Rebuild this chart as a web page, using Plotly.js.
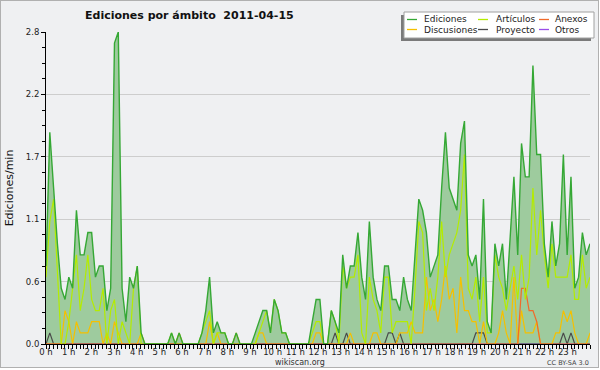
<!DOCTYPE html>
<html>
<head>
<meta charset="utf-8">
<script src="https://cdn.plot.ly/plotly-3.0.1.min.js"></script>
<style>
  html, body { margin: 0; padding: 0; background: #ffffff; }
  #wrap { position: relative; width: 600px; height: 370px; }
  #frame { position: absolute; left: 0; top: 0; width: 599px; height: 368px; box-sizing: border-box;
           border: 1px solid #b0b0b0; background: #eff0f2; }
  #chart { position: absolute; left: 0; top: 0; width: 600px; height: 370px; }
</style>
</head>
<body>
<div id="wrap"><div id="frame"></div><div id="chart"></div></div>
<script>
// ---- data (edits per minute, 10-minute bins, 2011-04-15) ----
const edits = [
  0.7,1.9,1.4,0.9,0.5,0.4,0.6,0.5,1.2,0.8,
  0.8,1.0,1.0,0.6,0.7,0.7,0.3,0.5,2.7,2.8,
  0.5,0.2,0.6,0.5,0.7,0.1,0,0,0,0,
  0,0,0,0.1,0,0.1,0,0,0,0,
  0,0.1,0.3,0.6,0.1,0.2,0.1,0.1,0,0,
  0.1,0,0,0,0,0.1,0.2,0.3,0.3,0.1,
  0.4,0.3,0.1,0.1,0,0,0,0,0,0,
  0.2,0.4,0.4,0,0,0.3,0.2,0.1,0.8,0.5,
  0.7,0.7,1.0,0.6,0.4,1.1,0.6,0.4,0.3,0.7,
  0.7,0.4,0.4,0.3,0.6,0.4,0.3,0.8,1.3,1.2,
  1.0,0.6,0.7,0.8,1.4,1.9,1.4,1.3,1.2,1.8,
  2.0,0.8,0.7,0.8,0.4,1.3,0.2,0.1,0.9,0.7,
  0.9,0.4,0.9,1.5,0.8,1.8,1.5,1.5,2.5,1.7,
  1.7,0.9,0.6,1.1,0.7,0.9,1.7,0.8,1.5,0.5,
  0.6,1.0,0.8,0.9
];
const articulos = [
  0.6,1.1,1.3,0.7,0,0,0.2,0.5,0.8,0.3,
  0.5,0.8,0.4,0.3,0.3,0.5,0,0.3,0.4,0,
  0.2,0.1,0,0.5,0.7,0,0,0,0,0,
  0,0,0,0.1,0,0,0,0,0,0,
  0,0.1,0.2,0.3,0,0.1,0.1,0.1,0,0,
  0,0,0,0,0,0,0.1,0.2,0.3,0.1,
  0.4,0.3,0.1,0.1,0,0,0,0,0,0,
  0.1,0.2,0.2,0,0,0.3,0.2,0,0.7,0.5,
  0.6,0.6,0.8,0.1,0,0.6,0.4,0.3,0.1,0.6,
  0.6,0.1,0.2,0.2,0.2,0.2,0,0.5,1.1,1.0,
  0.3,0.5,0.3,0.6,1.1,0.6,0.8,0.9,1.0,1.2,
  1.7,0.5,0.4,0.6,0.2,0.6,0.1,0.1,0.8,0.6,
  0.5,0.3,0.5,0.7,0.4,0.8,0.4,0.6,1.4,0.8,
  1.2,0.8,0.5,0.9,0.6,0.6,0.6,0.6,0.8,0.4,
  0.4,0.8,0.5,0.6
];
const discusiones = [
  0,0,0,0,0,0.3,0.2,0,0.2,0.1,
  0.1,0.1,0.2,0.2,0.2,0,0.1,0,0.2,0.1,
  0,0,0,0,0,0.1,0,0,0,0,
  0,0,0,0,0,0.1,0,0,0,0,
  0,0,0,0.2,0,0.1,0,0,0,0,
  0.1,0,0,0,0,0,0.1,0.1,0,0,
  0,0,0,0,0,0,0,0,0,0,
  0,0.1,0.1,0,0,0,0,0,0,0,
  0.1,0,0,0,0,0,0.1,0.1,0,0,
  0,0,0,0.1,0.1,0.1,0.2,0.1,0.1,0.1,
  0.6,0.3,0.4,0.2,0.4,0.7,0.4,0.5,0.1,0.6,
  0.3,0.3,0.2,0.2,0,0.2,0,0,0,0.1,
  0.3,0.1,0,0.6,0,0.3,0.1,0.1,0.1,0.2,
  0,0,0,0,0.1,0.1,0.3,0.2,0.3,0.1,
  0,0,0,0.1
];
const anexos = [
  0,0,0,0,0,0,0,0,0,0, 0,0,0,0,0,0,0,0,0,0,
  0,0,0,0,0,0,0,0,0,0, 0,0,0,0,0,0,0,0,0,0,
  0,0,0,0,0,0,0,0,0,0, 0,0,0,0,0,0,0,0,0,0,
  0,0,0,0,0,0,0,0,0,0, 0,0,0,0,0,0,0,0,0,0,
  0,0,0,0,0,0,0,0,0,0, 0,0,0,0,0,0,0,0,0,0,
  0,0,0,0,0,0,0,0,0,0, 0,0,0,0,0,0,0,0,0,0,
  0,0,0,0,0,0.5,0.5,0.3,0.3,0.2, 0,0,0,0,0,0,0,0,0,0,
  0,0,0,0
];
const proyecto = [
  0,0.1,0,0,0,0,0,0,0,0, 0,0,0,0,0,0,0,0,0,0,
  0,0,0,0,0,0,0,0,0,0, 0,0,0,0,0,0,0,0,0,0,
  0,0,0,0,0,0,0,0,0,0, 0,0,0,0,0,0,0,0,0,0,
  0,0,0,0,0,0,0,0,0,0, 0,0,0,0,0,0,0.1,0,0,0.1,
  0,0,0,0,0,0,0,0,0,0, 0.1,0.1,0,0.1,0,0,0,0,0,0,
  0,0,0,0,0,0,0,0,0,0, 0,0,0,0.1,0.1,0.1,0,0,0,0,
  0,0,0,0,0,0,0,0,0,0, 0,0,0,0,0,0,0.1,0,0.1,0,
  0,0,0,0
];
const otros = [
  0,0,0,0,0,0,0,0,0,0, 0,0,0,0,0,0,0,0,0,0,
  0,0,0,0,0,0,0,0,0,0, 0,0,0,0,0,0,0,0,0,0,
  0,0,0,0,0,0,0,0,0,0, 0,0,0,0,0,0,0,0,0,0,
  0,0,0,0,0,0,0,0,0,0, 0,0,0,0,0,0,0,0,0,0,
  0,0,0,0,0,0,0,0,0,0, 0,0,0,0,0,0,0,0,0,0,
  0,0,0,0,0,0,0,0,0,0, 0,0,0,0,0,0,0,0,0,0,
  0,0,0,0,0,0,0,0,0,0, 0,0,0,0,0,0,0,0,0,0,
  0,0,0,0
];
const hourTicks = [0,1,2,3,4,5,6,7,8,9,10,11,12,13,14,15,16,17,18,19,20,21,22,23];
const hourLabels = ["0 h","1 h","2 h","3 h","4 h","5 h","6 h","7 h","8 h","9 h","10 h","11 h",
                    "12 h","13 h","14 h","15 h","16 h","17 h","18 h","19 h","20 h","21 h","22 h","23 h"];
const yTicks = [0, 0.56, 1.12, 1.68, 2.24, 2.8];
const yTickLabels = ["0.0","0.6","1.1","1.7","2.2","2.8"];
const titleText = "Ediciones por ámbito\u00a0\u00a02011-04-15";

// series definitions (name, values, colour), in legend order (row-major, 3 columns)
const series = [
  {name: "Ediciones",   y: edits,       color: "#35a835"},
  {name: "Artículos",   y: articulos,   color: "#b4ec00"},
  {name: "Anexos",      y: anexos,      color: "#f06a2a"},
  {name: "Discusiones", y: discusiones, color: "#f5c000"},
  {name: "Proyecto",    y: proyecto,    color: "#4a4a4a"},
  {name: "Otros",       y: otros,       color: "#9a4ee8"}
];

// x position of each bin across the day
const binHour = edits.map((_, i) => i * 24 / (edits.length - 1));

const FONT = "DejaVu Sans, Verdana, sans-serif";
const M = {l: 46, r: 10, t: 32, b: 26};
const W = 600, H = 370;
const PW = W - M.l - M.r, PH = H - M.t - M.b;
const px2x = X => (X - M.l) / PW;
const px2y = Y => (M.t + PH - Y) / PH;

const traces = [];
// filled total area
traces.push({
  x: binHour, y: edits, type: "scatter", mode: "lines", fill: "tozeroy",
  fillcolor: "rgb(158,203,158)", line: {width: 0, color: "rgb(158,203,158)"},
  hoverinfo: "skip", showlegend: false
});
// lines, drawn bottom to top
const drawOrder = ["Otros", "Proyecto", "Discusiones", "Anexos", "Artículos", "Ediciones"];
drawOrder.forEach(n => {
  const s = series.find(d => d.name === n);
  traces.push({
    x: binHour, y: s.y, type: "scatter", mode: "lines", name: s.name,
    line: {color: s.color, width: n === "Ediciones" ? 1.4 : 1.2},
    showlegend: false
  });
});

// custom legend (box with shadow, short line samples, labels)
const shapes = [];
const annotations = [];
shapes.push({type: "rect", xref: "paper", yref: "paper",
  x0: px2x(401), x1: px2x(591), y0: px2y(15), y1: px2y(41),
  fillcolor: "#7a7a7a", line: {width: 0}, layer: "above"});
shapes.push({type: "rect", xref: "paper", yref: "paper",
  x0: px2x(404), x1: px2x(594), y0: px2y(12), y1: px2y(38),
  fillcolor: "#ffffff", line: {width: 1, color: "#a0a0a0"}, layer: "above"});
const colLine = [407, 478, 539];
const colText = [422, 494, 553];
const rowY = [19.5, 29.5];
series.forEach((s, k) => {
  const c = k % 3, r = Math.floor(k / 3);
  shapes.push({type: "line", xref: "paper", yref: "paper",
    x0: px2x(colLine[c]), x1: px2x(colLine[c] + 10), y0: px2y(rowY[r]), y1: px2y(rowY[r]),
    line: {color: s.color, width: 1.3}, layer: "above"});
  annotations.push({xref: "paper", yref: "paper", x: px2x(colText[c]), y: px2y(rowY[r]),
    xanchor: "left", yanchor: "middle", showarrow: false, text: s.name,
    font: {family: FONT, size: 9, color: "#222"}});
});
annotations.push({xref: "paper", yref: "paper", x: px2x(300), y: px2y(362),
  xanchor: "center", yanchor: "middle", showarrow: false, text: "wikiscan.org",
  font: {family: FONT, size: 8, color: "#333"}});
annotations.push({xref: "paper", yref: "paper", x: px2x(591), y: px2y(362.5),
  xanchor: "right", yanchor: "middle", showarrow: false, text: "CC BY-SA 3.0",
  font: {family: FONT, size: 6.5, color: "#444"}});

const layout = {
  width: W, height: H,
  margin: M,
  paper_bgcolor: "rgba(0,0,0,0)", plot_bgcolor: "rgba(0,0,0,0)",
  showlegend: false,
  font: {family: FONT, color: "#222"},
  title: {text: "<b>" + titleText + "</b>", xref: "container", yref: "container",
          x: 85 / W, xanchor: "left", y: 1 - 15 / H, yanchor: "middle",
          font: {family: FONT, size: 11, color: "#111"}},
  xaxis: {
    range: [0, 24], tickmode: "array", tickvals: hourTicks, ticktext: hourLabels,
    ticks: "outside", ticklen: 4, tickwidth: 1, tickcolor: "#000",
    showline: true, linecolor: "#000", linewidth: 1, showgrid: false, zeroline: false,
    tickfont: {family: FONT, size: 8.5, color: "#222"},
    ticklabelstandoff: -4,
    minor: {tickmode: "linear", tick0: 0, dtick: 1 / 6, ticks: "outside", ticklen: 4,
            tickcolor: "#000", tickwidth: 1, showgrid: false},
    fixedrange: true
  },
  yaxis: {
    range: [0, 2.8], tickmode: "array", tickvals: yTicks, ticktext: yTickLabels,
    ticks: "outside", ticklen: 4, tickwidth: 1, tickcolor: "#000",
    showline: true, linecolor: "#000", linewidth: 1,
    showgrid: true, gridcolor: "#cdcdcd", gridwidth: 1, zeroline: false,
    tickfont: {family: FONT, size: 8.5, color: "#222"},
    minor: {tickmode: "linear", tick0: 0, dtick: 0.14, ticks: "outside", ticklen: 3,
            tickcolor: "#000", tickwidth: 1, showgrid: false},
    title: {text: "Ediciones/min", font: {family: FONT, size: 11, color: "#111"}, standoff: 9},
    fixedrange: true
  },
  shapes: shapes,
  annotations: annotations
};

Plotly.newPlot("chart", traces, layout, {displayModeBar: false, staticPlot: true});
</script>
</body>
</html>
